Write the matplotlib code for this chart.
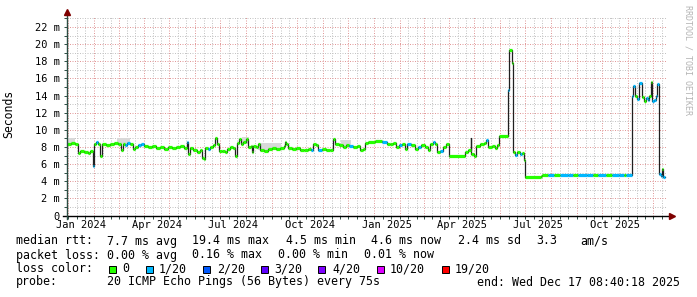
import matplotlib
matplotlib.use("Agg")
import matplotlib.pyplot as plt
import matplotlib.dates as mdates
from matplotlib.patches import Rectangle
from matplotlib.ticker import MultipleLocator, FuncFormatter
from datetime import datetime, timedelta

W, H = 697, 297
MONO = "DejaVu Sans Mono"

# graph window (2 years ending at the "end:" time)
start = datetime(2023, 12, 30, 8, 40)
end = datetime(2025, 12, 17, 8, 40)
data_end_day = 716

# median rtt samples: day offset from start, value in ms, pings lost out of 20
days = [0, 5, 10, 13, 16, 20, 25, 28, 31, 32,
        35, 37, 39, 42, 47, 51, 56, 61, 65, 67,
        69, 72, 75, 79, 81, 85, 89, 92, 97, 102,
        106, 111, 116, 121, 126, 130, 135, 140, 144, 145,
        147, 151, 156, 159, 162, 164, 165, 169, 171, 175,
        177, 179, 182, 185, 189, 191, 195, 199, 201, 203,
        206, 208, 211, 214, 217, 220, 221, 223, 226, 229,
        231, 236, 241, 245, 250, 255, 260, 261, 262, 264,
        269, 274, 279, 284, 288, 292, 294, 298, 300, 305,
        310, 315, 318, 321, 325, 330, 334, 337, 342, 347,
        351, 354, 357, 360, 369, 377, 383, 387, 390, 394,
        397, 401, 404, 407, 412, 416, 420, 424, 428, 432,
        434, 438, 440, 443, 446, 450, 454, 457, 476, 480,
        483, 484, 487, 490, 494, 499, 501, 504, 509, 512,
        515, 517, 528, 529, 532, 534, 536, 538, 542, 545,
        547, 548, 567, 568, 575, 583, 590, 600, 606, 612,
        622, 630, 636, 645, 652, 660, 666, 669, 676, 677,
        680, 682, 684, 685, 688, 690, 693, 695, 697, 699,
        700, 702, 705, 706, 708, 711, 712, 713]

median_ms = [8.4, 8.5, 8.3, 7.3, 7.5, 7.4, 7.3, 7.5, 5.8, 8.4,
             8.6, 8.4, 7.0, 8.4, 8.2, 8.3, 8.5, 8.4, 7.6, 8.3,
             8.2, 8.5, 8.4, 7.8, 8.0, 8.2, 8.4, 8.1, 8.0, 8.1,
             7.9, 8.0, 7.8, 8.0, 7.9, 8.0, 8.1, 7.9, 8.6, 7.2,
             7.9, 7.6, 7.4, 7.6, 6.7, 6.6, 7.9, 7.8, 8.0, 8.2,
             9.0, 8.3, 7.5, 7.5, 7.4, 7.8, 8.0, 7.9, 6.9, 8.5,
             8.9, 8.4, 8.6, 8.9, 8.0, 8.1, 7.4, 8.1, 8.0, 8.3,
             7.6, 7.5, 7.8, 7.9, 7.8, 7.9, 8.1, 8.6, 8.3, 7.9,
             7.8, 7.9, 7.7, 7.6, 7.8, 7.6, 8.3, 8.2, 7.7, 7.8,
             7.6, 7.7, 8.9, 8.3, 8.2, 8.0, 8.2, 8.1, 8.0, 8.1,
             7.6, 7.8, 8.5, 8.6, 8.7, 8.6, 8.4, 8.3, 8.5, 8.0,
             8.2, 8.4, 7.8, 8.3, 8.2, 7.8, 8.0, 8.2, 8.0, 7.6,
             8.4, 8.6, 8.3, 7.4, 7.5, 8.0, 8.3, 6.9, 7.4, 7.6,
             9.1, 7.2, 7.0, 8.1, 8.3, 8.5, 8.8, 8.0, 8.1, 7.9,
             8.2, 9.3, 14.6, 19.3, 17.8, 7.4, 7.1, 7.4, 7.2, 7.3,
             6.5, 4.45, 4.6, 4.7, 4.7, 4.75, 4.7, 4.7, 4.75, 4.7,
             4.7, 4.75, 4.7, 4.75, 4.7, 4.7, 4.75, 4.7, 14.0, 15.1,
             14.0, 13.6, 14.2, 15.5, 13.8, 13.4, 13.7, 13.5, 13.9, 15.6,
             13.4, 13.5, 13.9, 15.4, 4.8, 4.6, 5.4, 4.5]

loss = [0, 0, 0, 0, 0, 0, 0, 0, 1, 0,
        1, 0, 0, 0, 0, 0, 0, 0, 0, 0,
        1, 1, 0, 0, 0, 1, 1, 0, 0, 0,
        0, 0, 0, 0, 0, 0, 0, 0, 1, 0,
        0, 0, 0, 0, 0, 0, 0, 1, 0, 0,
        0, 0, 0, 0, 0, 0, 0, 0, 0, 0,
        0, 0, 0, 0, 0, 0, 0, 0, 0, 0,
        0, 0, 0, 0, 0, 0, 0, 0, 0, 0,
        0, 0, 0, 0, 0, 1, 0, 0, 1, 0,
        0, 0, 0, 0, 0, 0, 0, 1, 0, 0,
        0, 0, 0, 0, 0, 1, 0, 0, 0, 0,
        1, 0, 0, 1, 0, 0, 1, 0, 0, 0,
        0, 1, 0, 0, 1, 0, 0, 0, 0, 0,
        0, 0, 0, 0, 0, 0, 1, 0, 0, 0,
        0, 0, 1, 0, 0, 0, 1, 0, 1, 0,
        0, 0, 0, 0, 1, 0, 1, 1, 0, 1,
        1, 0, 1, 0, 1, 1, 0, 1, 1, 1,
        0, 1, 0, 1, 0, 0, 1, 1, 0, 0,
        1, 1, 1, 1, 1, 1, 0, 1]

# smoke (spread of the 20 pings) where it shows above/below the median
smoke_start = [0, 60, 209, 228, 328]
smoke_end = [10, 75, 218, 256, 340]
smoke_lo = [8.3, 8.3, 8.4, 7.6, 8.1]
smoke_hi = [9.1, 9.0, 9.2, 8.5, 8.8]

loss_steps = [0, 1, 2, 3, 4, 10, 19]
loss_labels = ["0", "1/20", "2/20", "3/20", "4/20", "10/20", "19/20"]
loss_colors = ["#26ff00", "#00b8ff", "#0059ff", "#5e00ff", "#7e00ff", "#dd00ff", "#ff0000"]

xlabels = ["Jan 2024", "Apr 2024", "Jul 2024", "Oct 2024",
           "Jan 2025", "Apr 2025", "Jul 2025", "Oct 2025"]
xlabel_months = [(2024, 1), (2024, 4), (2024, 7), (2024, 10),
                 (2025, 1), (2025, 4), (2025, 7), (2025, 10)]

rtt_items = ["median rtt:", "7.7 ms avg", "19.4 ms max", "4.5 ms min",
             "4.6 ms now", "2.4 ms sd", "3.3", "am/s"]
loss_items = ["packet loss:", "0.00 % avg", "0.16 % max", "0.00 % min", "0.01 % now"]
probe_items = ["probe:", "20 ICMP Echo Pings (56 Bytes) every 75s",
               "end: Wed Dec 17 08:40:18 2025"]


def fig_xy(px, py):
    return px / W, 1 - py / H


def legend_text(px, py, s):
    fig.text(*fig_xy(px, py), s, family=MONO, size=8.37, va="center", ha="left")


fig = plt.figure(figsize=(W / 100, H / 100), dpi=100)
fig.patch.set_facecolor("white")
ax = fig.add_axes([67 / W, 1 - 215.5 / H, 600 / W, 200 / H])
ax.set_facecolor("white")

t = [mdates.date2num(start + timedelta(days=d)) for d in days]
t_next = t[1:] + [mdates.date2num(start + timedelta(days=data_end_day))]
color_of = dict(zip(loss_steps, loss_colors))

for a, b, lo, hi in zip(smoke_start, smoke_end, smoke_lo, smoke_hi):
    ta = mdates.date2num(start + timedelta(days=a))
    tb = mdates.date2num(start + timedelta(days=b))
    ax.fill_between([ta, tb], [lo, lo], [hi, hi], color="#d9d9d9", lw=0, zorder=2)

ax.step(t + [t_next[-1]], median_ms + [median_ms[-1]], where="post",
        color="#202020", lw=0.9, zorder=3)
ax.hlines(median_ms, t, t_next, colors=[color_of[l] for l in loss], lw=2.3, zorder=4)

ax.set_xlim(mdates.date2num(start), mdates.date2num(end))
ax.set_ylim(0, 23.35)

ax.xaxis.set_major_locator(mdates.MonthLocator())
ax.xaxis.set_minor_locator(mdates.DayLocator(bymonthday=[11, 21]))
ax.xaxis.set_major_formatter(FuncFormatter(lambda v, p: ""))
ax.yaxis.set_major_locator(MultipleLocator(2))
ax.yaxis.set_minor_locator(MultipleLocator(1))
ax.yaxis.set_major_formatter(FuncFormatter(lambda v, p: "0" if v == 0 else f"{v:.0f} m"))

ax.grid(which="major", color="#e29a9a", lw=0.72, ls=(0, (1, 1.5)))
ax.grid(which="minor", color="#c4c4c4", lw=0.72, ls=(0, (1, 1.5)))
ax.set_axisbelow(True)

for s in ax.spines.values():
    s.set_visible(False)
ax.tick_params(which="both", direction="out", length=2, width=0.7, color="#2c4d43")
ax.tick_params(axis="y", which="major", labelsize=7.5, pad=3)
for lab in ax.get_yticklabels():
    lab.set_family(MONO)

for (yr, mo), lab in zip(xlabel_months, xlabels):
    ax.text(mdates.date2num(datetime(yr, mo, 16)), -10 / 200, lab,
            transform=ax.get_xaxis_transform(), ha="center", va="center",
            family=MONO, size=7.5)

# axes with rrdtool style arrows
ax.plot([-0.006, 1.008], [0, 0], transform=ax.transAxes, color="#000000",
        lw=1, clip_on=False, zorder=5)
ax.plot([0, 0], [-0.015, 1.015], transform=ax.transAxes, color="#2c4d43",
        lw=1, clip_on=False, zorder=5)
ax.plot([1.008], [0], transform=ax.transAxes, marker=">", ms=4.5, color="#7f0000",
        clip_on=False, zorder=6)
ax.plot([0], [1.02], transform=ax.transAxes, marker="^", ms=4.5, color="#7f0000",
        clip_on=False, zorder=6)

fig.text(*fig_xy(9, 114), "Seconds", rotation=90, ha="center", va="center",
         family=MONO, size=8.3)
fig.text(*fig_xy(688, 5), "RRDTOOL / TOBI OETIKER", rotation=270, ha="center", va="top",
         family=MONO, size=6, color="#b4b4b4")

# legend block, items placed where rrdtool put them
for x, s in zip([16, 107, 192, 286, 371, 457.5, 536, 580], rtt_items):
    legend_text(x, 241, s)
for x, s in zip([16, 107, 192.5, 278, 364.5], loss_items):
    legend_text(x, 255, s)
legend_text(16, 269, "loss color:")
box_x = [109, 145.7, 203.3, 260.7, 318.3, 377.3, 441.7]
label_x = [122, 158.5, 217, 274, 332, 390, 455]
for bx, lx, col, lab in zip(box_x, label_x, loss_colors, loss_labels):
    fig.patches.append(Rectangle(fig_xy(bx, 272.5), 7 / W, 7 / H, transform=fig.transFigure,
                                 facecolor=col, edgecolor="#000000", lw=0.7))
    legend_text(lx, 269, lab)
for x, s in zip([16, 107, 477], probe_items):
    legend_text(x, 282, s)

fig.savefig("out.png", dpi=100)
